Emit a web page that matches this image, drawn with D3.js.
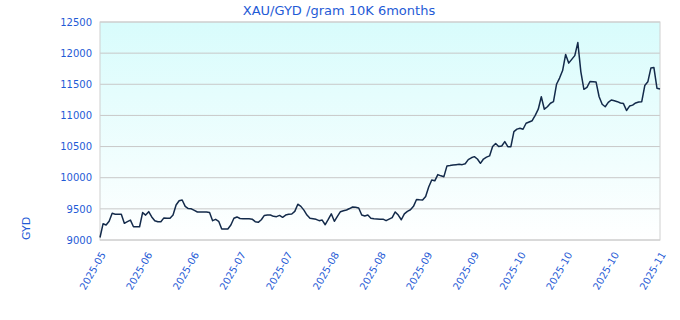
<!DOCTYPE html>
<html>
<head>
<meta charset="utf-8">
<script src="https://cdn.jsdelivr.net/npm/d3@7"></script>
<style>
  body { margin: 0; background: #ffffff; }
  text { font-family: "DejaVu Sans", sans-serif; }
</style>
</head>
<body>
<svg id="chart"></svg>
<script>
const title = "XAU/GYD /gram 10K 6months"
const yLabel = "GYD"
const startDate = "2025-05-03"
const endDate = "2025-11-03"
const yTicks = [9000, 9500, 10000, 10500, 11000, 11500, 12000, 12500]
const xTickLabels = ["2025-05", "2025-06", "2025-06", "2025-07", "2025-07", "2025-08", "2025-08",
    "2025-09", "2025-09", "2025-10", "2025-10", "2025-10", "2025-11"]

// daily price, one value per day from startDate
const prices = [
    9040, 9260, 9240, 9300, 9428, 9415, 9415, 9412, 9268, 9294,
    9320, 9213, 9213, 9213, 9440, 9400, 9455, 9370, 9310, 9294,
    9294, 9355, 9348, 9348, 9400, 9562, 9630, 9642, 9540, 9505,
    9500, 9475, 9450, 9450, 9450, 9450, 9440, 9310, 9332, 9300,
    9177, 9177, 9177, 9240, 9350, 9370, 9345, 9340, 9340, 9340,
    9335, 9294, 9284, 9325, 9395, 9401, 9401, 9380, 9375, 9395,
    9365, 9400, 9414, 9418, 9460, 9575, 9540, 9480, 9400, 9348,
    9340, 9332, 9310, 9320, 9245, 9330, 9420, 9300, 9380, 9455,
    9470, 9482, 9505, 9530, 9525, 9515, 9401, 9385, 9400, 9350,
    9340, 9338, 9335, 9335, 9310, 9335, 9360, 9450, 9400, 9325,
    9420, 9460, 9485, 9540, 9650, 9645, 9642, 9700, 9850, 9964,
    9950, 10050, 10030, 10017, 10190, 10195, 10204, 10210, 10215, 10210,
    10225, 10290, 10320, 10338, 10300, 10231, 10300, 10330, 10350, 10500,
    10550, 10500, 10510, 10580, 10499, 10499, 10740, 10780, 10794, 10778,
    10874, 10895, 10915, 11000, 11100, 11300, 11100, 11140, 11195, 11221,
    11500, 11600, 11720, 11980, 11840, 11900, 11960, 12170, 11700, 11420,
    11450, 11545, 11540, 11535, 11300, 11180, 11140, 11210, 11248, 11235,
    11221, 11200, 11190, 11080, 11150, 11165, 11200, 11215, 11221, 11480,
    11540, 11760, 11768, 11437, 11425
]

const width = 680
const height = 320
const margin = { top: 22, right: 20, bottom: 80, left: 100 }
const innerW = width - margin.left - margin.right
const innerH = height - margin.top - margin.bottom
const textColor = "#1f5bd6"

const parse = d3.timeParse("%Y-%m-%d")
const t0 = parse(startDate)
const t1 = parse(endDate)

const data = prices.map((p, i) => ({ date: d3.timeDay.offset(t0, i), value: p }))

let svg = d3.select("#chart")
    .attr("width", width)
    .attr("height", height)

const defs = svg.append("defs")
const grad = defs.append("linearGradient")
    .attr("id", "bg")
    .attr("x1", 0).attr("y1", 0)
    .attr("x2", 0).attr("y2", 1)
grad.append("stop").attr("offset", "0%").attr("stop-color", "#d8fcfc")
grad.append("stop").attr("offset", "100%").attr("stop-color", "#ffffff")

const g = svg.append("g")
    .attr("transform", "translate(" + margin.left + "," + margin.top + ")")

const xScale = d3.scaleTime()
    .domain([t0, t1])
    .range([0, innerW])

const yScale = d3.scaleLinear()
    .domain([9000, 12500])
    .range([innerH, 0])

g.append("rect")
    .attr("width", innerW)
    .attr("height", innerH)
    .attr("fill", "url(#bg)")

// horizontal grid
g.selectAll(".grid")
    .data(yTicks)
    .enter()
    .append("line")
    .attr("class", "grid")
    .attr("x1", 0)
    .attr("x2", innerW)
    .attr("y1", d => yScale(d))
    .attr("y2", d => yScale(d))
    .attr("stroke", "#c8c8c8")
    .attr("stroke-width", 1)

g.append("rect")
    .attr("width", innerW)
    .attr("height", innerH)
    .attr("fill", "none")
    .attr("stroke", "#d0d0d0")
    .attr("stroke-width", 1)

// y axis labels
const yAxis = g.append("g")
    .call(d3.axisLeft(yScale).tickValues(yTicks).tickSize(0).tickPadding(8)
        .tickFormat(d3.format("d")))
yAxis.select(".domain").remove()
yAxis.selectAll("text")
    .attr("fill", textColor)
    .style("font-size", "10px")
    .style("font-family", "DejaVu Sans, sans-serif")

// x axis, evenly spaced tick positions
const step = (t1 - t0) / 12
const xTickVals = xTickLabels.map((l, i) => new Date(+t0 + i * step))

const xAxis = g.append("g")
    .attr("transform", "translate(0," + innerH + ")")
    .call(d3.axisBottom(xScale).tickValues(xTickVals).tickSize(0)
        .tickFormat((d, i) => xTickLabels[i]))
xAxis.select(".domain").remove()
xAxis.selectAll("text")
    .attr("fill", textColor)
    .style("font-size", "10px")
    .style("font-family", "DejaVu Sans, sans-serif")
    .attr("text-anchor", "end")
    .attr("dy", "0")
    .attr("transform", "translate(3,13) rotate(-60)")

const line = d3.line()
    .x(d => xScale(d.date))
    .y(d => yScale(d.value))

g.append("path")
    .datum(data)
    .attr("d", line)
    .attr("fill", "none")
    .attr("stroke", "#132a4a")
    .attr("stroke-width", 1.5)
    .attr("stroke-linejoin", "round")

svg.append("text")
    .attr("x", 339)
    .attr("y", 15)
    .attr("text-anchor", "middle")
    .attr("fill", textColor)
    .style("font-size", "13px")
    .text(title)

svg.append("text")
    .attr("transform", "translate(30,240) rotate(-90)")
    .attr("text-anchor", "start")
    .attr("fill", textColor)
    .style("font-size", "11px")
    .text(yLabel)
</script>
</body>
</html>
